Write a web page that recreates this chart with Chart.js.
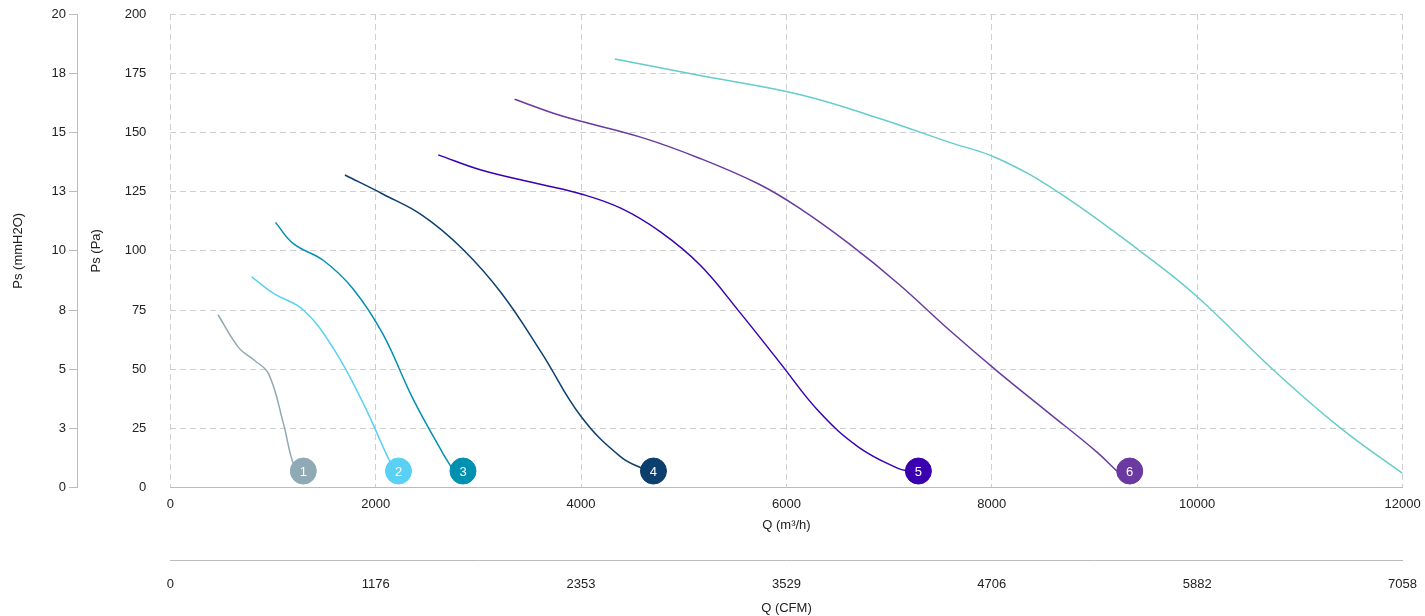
<!DOCTYPE html>
<html lang="en">
<head>
<meta charset="UTF-8">
<title>Fan curves</title>
<script src="https://cdn.jsdelivr.net/npm/chart.js"></script>
<style>
  html,body{margin:0;padding:0;background:#fff;}
  #wrap{width:1425px;height:616px;}
</style>
</head>
<body>
<div id="wrap"><canvas id="c"></canvas></div>
<script>
// curve data: Q (m³/h), Ps (Pa)
const curve1 = [[464,73],[667,59],[812,54],[957,48],[1101,27],[1198,10],[1260,7]];
const curve2 = [[792,89],[1005,82],[1295,75],[1585,59],[1874,36],[2116,13],[2190,7]];
const curve3 = [[1024,112],[1198,103],[1488,96],[1778,84],[2068,65],[2357,38],[2647,15],[2760,7]];
const curve4 = [[1700,132],[2068,124],[2454,115],[2841,101],[3227,82],[3614,57],[4000,30],[4386,13],[4650,7]];
const curve5 = [[2609,140.5],[3034,134],[3614,128],[4000,124],[4386,118],[4773,108],[5159,94],[5546,74],[5932,53],[6319,32],[6705,17],[7092,8],[7200,7]];
const curve6 = [[3353,164],[3807,157],[4580,148],[5159,139],[5739,128],[6126,118],[6609,103],[7092,86],[7575,67],[8058,49],[8541,32],[9024,15],[9217,7]];
const curve7 = [[4329,181],[5159,174],[6126,166],[6899,156],[7575,146],[8058,139],[8638,125],[9440,100],[9990,81],[10734,50],[11400,25],[12000,6]];
const curveColors = ['#8fa9b5','#5bd0f5','#0090b0','#0d3f6e','#3a00b0','#6a3aa0','#66cccc'];
const markerQ = [1295,2222,2850,4705,7285,9343];
const markerPs = 7;
const markerLabels = ['1','2','3','4','5','6'];
const cfmTicks = ['0','1176','2353','3529','4706','5882','7058'];

const curves = [curve1,curve2,curve3,curve4,curve5,curve6,curve7];
const datasets = curves.map((c,i)=>({
  type:'line',
  data:c.map(p=>({x:p[0],y:p[1]})),
  borderColor:curveColors[i],
  borderWidth:1.5,
  tension:0.4,
  pointRadius:0,
  xAxisID:'x',yAxisID:'y'
}));
markerQ.forEach((q,i)=>datasets.push({
  type:'scatter',
  data:[{x:q,y:markerPs}],
  backgroundColor:curveColors[i],
  borderColor:curveColors[i],
  pointRadius:13,
  pointHoverRadius:13,
  label:markerLabels[i],
  xAxisID:'x',yAxisID:'y'
}));

const markerText = {
  id:'markerText',
  afterDatasetsDraw(chart){
    const ctx = chart.ctx;
    ctx.save();
    ctx.fillStyle='#fff';
    ctx.font='13px Arial';
    ctx.textAlign='center';
    ctx.textBaseline='middle';
    markerQ.forEach((q,i)=>{
      ctx.fillText(markerLabels[i], chart.scales.x.getPixelForValue(q), chart.scales.y.getPixelForValue(markerPs)+1);
    });
    ctx.restore();
  }
};

const grid = {color:'#cfcfcf', tickColor:'transparent'};
const tickFont = {family:'Arial', size:13};
new Chart(document.getElementById('c'), {
  data:{datasets},
  options:{
    responsive:true, maintainAspectRatio:false, animation:false,
    layout:{padding:{top:0,right:16,bottom:0,left:7}},
    plugins:{legend:{display:false}, tooltip:{enabled:false}},
    scales:{
      x:{type:'linear',position:'bottom',min:0,max:12000,
        ticks:{stepSize:2000,color:'#222',font:tickFont,callback:v=>String(v)},
        grid:{...grid, tickLength:6}, border:{color:'#bbb',dash:[6,4]},
        title:{display:true,text:'Q (m³/h)',color:'#222',font:tickFont,padding:{top:2,bottom:28}}},
      x2:{type:'linear',position:'bottom',min:0,max:12000/1.7,
        afterBuildTicks(s){s.ticks=cfmTicks.map((t,i)=>({value:i*12000/1.7/6}));},
        ticks:{color:'#222',font:tickFont,padding:8,callback:(v,i)=>cfmTicks[i]},
        grid:{display:false,drawOnChartArea:false}, border:{color:'#bbb'},
        title:{display:true,text:'Q (CFM)',color:'#222',font:tickFont,padding:{top:0,bottom:0}}},
      y:{type:'linear',position:'left',min:0,max:200,
        ticks:{stepSize:25,color:'#222',font:tickFont,padding:2,callback:v=>String(v)},
        grid:{...grid, tickLength:22}, border:{display:false,dash:[6,4]},
        title:{display:true,text:'Ps (Pa)',color:'#222',font:tickFont,padding:{top:12,bottom:18}}},
      y2:{type:'linear',position:'left',min:0,max:20,
        ticks:{stepSize:2.5,color:'#222',font:tickFont,callback:v=>Math.round(v)},
        grid:{drawOnChartArea:false, color:'#bbb', tickLength:8}, border:{color:'#bbb'},
        title:{display:true,text:'Ps (mmH2O)',color:'#222',font:tickFont,padding:{bottom:22}}}
    }
  },
  plugins:[markerText]
});
</script>
</body>
</html>
